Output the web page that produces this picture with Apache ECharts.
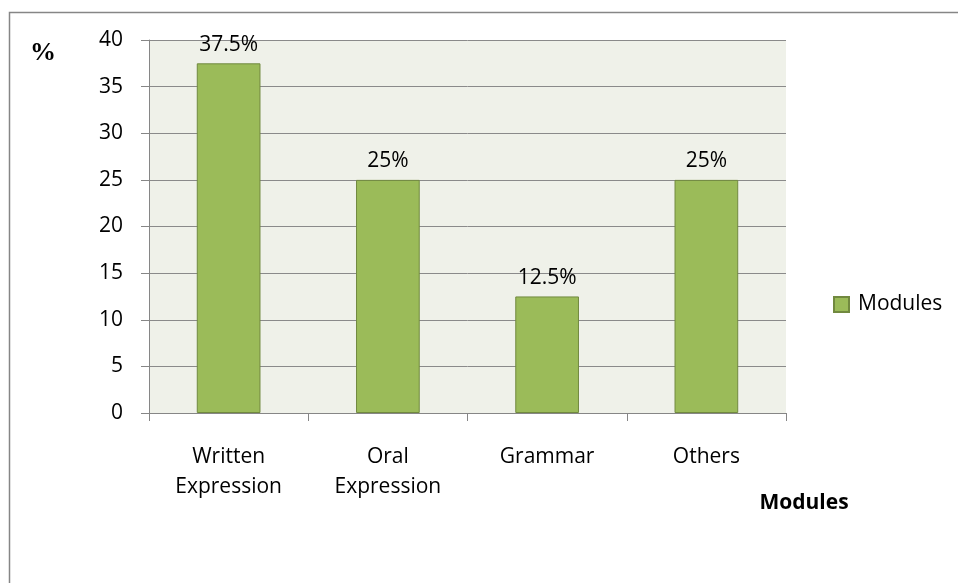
<!DOCTYPE html>
<html><head><meta charset="utf-8">
<script src="https://cdn.jsdelivr.net/npm/echarts@6/dist/echarts.min.js"></script>
<style>html,body{margin:0;padding:0;background:#fff}#c{width:958px;height:583px}</style>
</head><body><div id="c"></div>
<script>
const categories = ['Written\nExpression', 'Oral\nExpression', 'Grammar', 'Others'];
const values = [37.5, 25, 12.5, 25];
const labels = ['37.5%', '25%', '12.5%', '25%'];
const seriesName = 'Modules';
const yTicks = [0, 5, 10, 15, 20, 25, 30, 35, 40];

const font = "'Open Sans', 'Liberation Sans', sans-serif";
const chart = echarts.init(document.getElementById('c'), null, {renderer: 'canvas'});
chart.setOption({
  animation: false,
  backgroundColor: '#fff',
  grid: {left: 149, right: 172, top: 40, bottom: 170, show: true, backgroundColor: '#EFF1E9', borderWidth: 0},
  legend: {
    data: [seriesName], left: 828, top: 289, orient: 'vertical',
    itemWidth: 15, itemHeight: 15, itemGap: 6,
    textStyle: {fontFamily: font, fontSize: 21, color: '#000', padding: [0, 0, 0, 4]},
    icon: 'rect'
  },
  xAxis: {
    type: 'category', data: categories,
    axisLine: {lineStyle: {color: '#868686', width: 1}},
    axisTick: {show: true, length: 8, lineStyle: {color: '#868686'}},
    axisLabel: {fontFamily: font, fontSize: 21, color: '#000', margin: 29, lineHeight: 30, interval: 0}
  },
  yAxis: {
    type: 'value', min: yTicks[0], max: yTicks[yTicks.length - 1], interval: 5,
    axisLine: {show: true, lineStyle: {color: '#868686', width: 1}},
    axisTick: {show: true, length: 8, lineStyle: {color: '#868686'}},
    splitLine: {show: true, lineStyle: {color: '#8A8A8A', width: 1}},
    axisLabel: {fontFamily: font, fontSize: 21, color: '#000', margin: 26}
  },
  series: [{
    name: seriesName, type: 'bar', data: values, barWidth: '40%',
    itemStyle: {color: '#9BBB59', borderColor: '#71893F', borderWidth: 1},
    label: {show: true, position: 'top', distance: 8, fontFamily: font, fontSize: 21, color: '#000',
      formatter: p => labels[p.dataIndex]}
  }],
  graphic: [
    {type: 'rect', shape: {x: 9.5, y: 12.5, width: 1000, height: 1000}, style: {fill: 'none', stroke: '#868686', lineWidth: 1.5}, z: 100, silent: true},
    {type: 'text', x: 43, y: 53, style: {text: '%', font: "bold 26px 'Liberation Serif', 'DejaVu Serif', serif", fill: '#000', align: 'center', verticalAlign: 'middle'}},
    {type: 'text', x: 804, y: 503, style: {text: 'Modules', font: "bold 21px 'Open Sans', 'Liberation Sans', sans-serif", fill: '#000', align: 'center', verticalAlign: 'middle'}}
  ]
});
</script></body></html>
